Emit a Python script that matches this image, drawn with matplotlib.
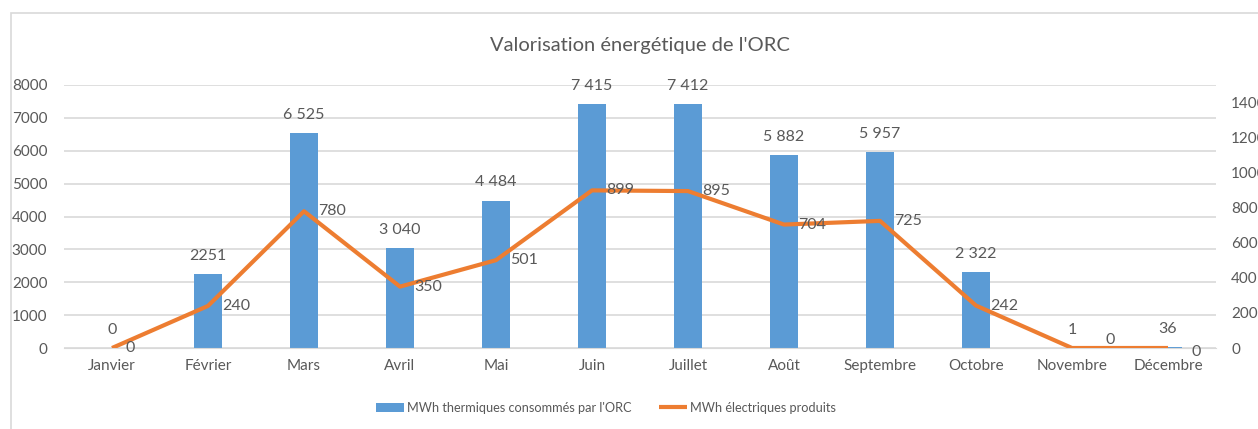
import matplotlib
matplotlib.use("Agg")
import matplotlib.pyplot as plt
from matplotlib.patches import Rectangle

months = ["Janvier", "Février", "Mars", "Avril", "Mai", "Juin", "Juillet",
          "Août", "Septembre", "Octobre", "Novembre", "Décembre"]
thermal = [0, 2251, 6525, 3040, 4484, 7415, 7412, 5882, 5957, 2322, 1, 36]
thermal_labels = ["0", "2251", "6 525", "3 040", "4 484", "7 415", "7 412",
                  "5 882", "5 957", "2 322", "1", "36"]
electric = [0, 240, 780, 350, 501, 899, 895, 704, 725, 242, 0, 0]
electric_labels = ["0", "240", "780", "350", "501", "899", "895", "704",
                   "725", "242", "0", "0"]
left_ticks = [0, 1000, 2000, 3000, 4000, 5000, 6000, 7000, 8000]
right_ticks = [0, 200, 400, 600, 800, 1000, 1200, 1400]

plt.rcParams["font.family"] = ["Lato", "DejaVu Sans"]

W, H = 1258, 429
fig = plt.figure(figsize=(W / 100, H / 100), dpi=100)
fig.patches.append(Rectangle((11 / W, -0.1), 1.2, 1 - 13 / H + 0.1,
                             transform=fig.transFigure, fill=False,
                             edgecolor="#d9d9d9", linewidth=1.2))

ax = fig.add_axes([64 / W, 1 - 348 / H, (1216 - 64) / W, (348 - 85) / H])
ax2 = ax.twinx()
txt = "#595959"
x = list(range(len(months)))

ax.bar(x, thermal, width=0.3, color="#5b9bd5", zorder=2,
       label="MWh thermiques consommés par l'ORC")
ax.set_ylim(0, 8000)
ax.set_xlim(-0.5, len(months) - 0.5)
ax.set_yticks(left_ticks)
ax.set_xticks(x)
ax.set_xticklabels(months)
ax.yaxis.grid(True, color="#d9d9d9", linewidth=1.2, zorder=0)
ax.set_axisbelow(True)
for s in ax.spines.values():
    s.set_visible(False)
ax.spines["bottom"].set_visible(True)
ax.spines["bottom"].set_color("#d9d9d9")
ax.tick_params(axis="both", length=0, colors=txt, labelsize=11)
ax.tick_params(axis="y", pad=12)
ax.tick_params(axis="x", pad=8)

for xi, v, lab in zip(x, thermal, thermal_labels):
    ax.annotate(lab, (xi, v), xytext=(0, 8), textcoords="offset points",
                ha="center", va="bottom", color=txt, fontsize=11.5)

ax2.plot(x, electric, color="#ed7d31", linewidth=3, solid_capstyle="butt",
         label="MWh électriques produits", zorder=3)
ax2.set_ylim(0, 1500)
ax2.set_yticks(right_ticks)
for s in ax2.spines.values():
    s.set_visible(False)
ax2.tick_params(axis="y", length=0, colors=txt, labelsize=11, pad=11)

# label offsets (points) for the line's data labels
line_offsets = [(10, 0)] * 10 + [(24, 6), (17, -3)]
for xi, v, lab, off in zip(x, electric, electric_labels, line_offsets):
    ax2.annotate(lab, (xi, v), xytext=off, textcoords="offset points",
                 ha="left", va="center", color=txt, fontsize=11.5)

fig.text(640 / W, 1 - 45 / H, "Valorisation énergétique de l'ORC",
         ha="center", va="center", color=txt, fontsize=14.5)

h1, l1 = ax.get_legend_handles_labels()
h2, l2 = ax2.get_legend_handles_labels()
fig.legend(h1 + h2, l1 + l2, loc="center", bbox_to_anchor=(606 / W, 1 - 408 / H),
           ncol=2, frameon=False, fontsize=9.2, labelcolor=txt,
           handlelength=2.2, handleheight=0.8, handletextpad=0.2, columnspacing=2.2)

fig.savefig("out.png", dpi=100)
